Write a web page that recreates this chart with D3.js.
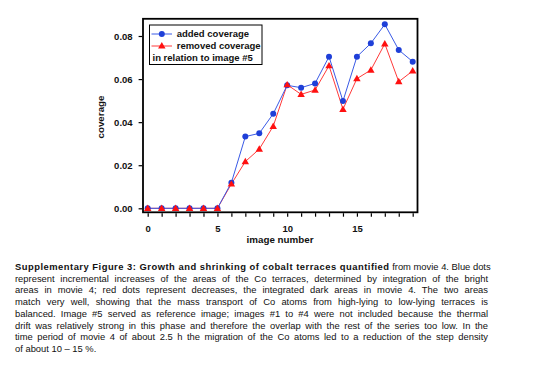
<!DOCTYPE html>
<html><head><meta charset="utf-8">
<script src="https://cdn.jsdelivr.net/npm/d3@7"></script>
<style>
html,body{margin:0;padding:0;background:#fff;width:554px;height:380px;overflow:hidden;}
#cap{position:absolute;left:15px;top:261px;width:473px;font-family:"Liberation Sans",Arial,sans-serif;font-size:9.4px;line-height:11.7px;color:#111;}
#cap div{text-align:justify;text-align-last:justify;white-space:nowrap;}
#cap div.last{text-align-last:left;}
#cap b{letter-spacing:0.5px;}
svg{position:absolute;left:0;top:0;}
</style></head>
<body>
<div id="cap"></div>
<script>
const imageNumbers = d3.range(0, 20);
const addedCoverage = [0,0,0,0,0,0,0.0119,0.0333,0.0348,0.0439,0.0571,0.0560,0.0580,0.0704,0.0498,0.0704,0.0766,0.0854,0.0735,0.0681];
const removedCoverage = [0,0,0,0,0,0,0.0113,0.0217,0.0275,0.0381,0.0574,0.0529,0.0549,0.0662,0.0460,0.0602,0.0642,0.0764,0.0588,0.0638];
const yTicks = [0, 0.02, 0.04, 0.06, 0.08];
const xMajorTicks = [0, 5, 10, 15];
const legendLabels = ["added coverage", "removed coverage", "in relation to image #5"];
const axisTitles = {x: "image number", y: "coverage"};
const captionBold = "Supplementary Figure 3: Growth and shrinking of cobalt terraces quantified";
const captionLines = [
  " from movie 4. Blue dots",
  "represent incremental increases of the areas of the Co terraces, determined by integration of the bright",
  "areas in movie 4; red dots represent decreases, the integrated dark areas in movie 4. The two areas",
  "match very well, showing that the mass transport of Co atoms from high-lying to low-lying terraces is",
  "balanced. Image #5 served as reference image; images #1 to #4 were not included because the thermal",
  "drift was relatively strong in this phase and therefore the overlap with the rest of the series too low. In the",
  "time period of movie 4 of about 2.5 h the migration of the Co atoms led to a reduction of the step density",
  "of about 10 \u2013 15 %."
];

const blue = "#1e3fd8", blueLine = "#3a5ae6";
const red = "#ff1010", redLine = "#ff3a3a";
const font = '"Liberation Sans",Arial,sans-serif';

const svg = d3.select("body").append("svg").attr("width",554).attr("height",250);

const x = d3.scaleLinear().domain([0,19]).range([147.7,412.7]);
const y = d3.scaleLinear().domain([0,0.08]).range([208.3,36]);

const frame = {l:143, r:417.5, t:18.8, b:212.3};

svg.append("rect").attr("x",frame.l).attr("y",frame.t)
  .attr("width",frame.r-frame.l).attr("height",frame.b-frame.t)
  .attr("fill","none").attr("stroke","#000").attr("stroke-width",1.8);

const yAxis = d3.axisLeft(y).tickValues(yTicks).tickFormat(d3.format(".2f")).tickSizeInner(3.5).tickSizeOuter(0).tickPadding(6);
const gy = svg.append("g").attr("transform",`translate(${frame.l-0.9},0)`).call(yAxis);
gy.select(".domain").remove();
gy.selectAll("line").attr("stroke","#000").attr("stroke-width",1.2);
gy.selectAll("text").attr("font-family",font).attr("font-size","9.5px").attr("font-weight","bold").attr("fill","#111");

const xAxis = d3.axisBottom(x).tickValues(imageNumbers).tickFormat(d=>xMajorTicks.includes(d)?d:"").tickSizeInner(3.5).tickSizeOuter(0).tickPadding(9);
const gx = svg.append("g").attr("transform",`translate(0,${frame.b+0.9})`).call(xAxis);
gx.select(".domain").remove();
gx.selectAll("line").attr("stroke","#000").attr("stroke-width",1.2);
gx.selectAll("text").attr("font-family",font).attr("font-size","9.5px").attr("font-weight","bold").attr("fill","#111");

svg.append("text").attr("x",280).attr("y",243).attr("text-anchor","middle")
  .attr("font-family",font).attr("font-size","9.8px").attr("font-weight","bold").attr("fill","#111").text(axisTitles.x);
svg.append("text").attr("transform","translate(104,117) rotate(-90)").attr("text-anchor","middle")
  .attr("font-family",font).attr("font-size","9.8px").attr("font-weight","bold").attr("fill","#111").text(axisTitles.y);

const line = d3.line().x((d,i)=>x(imageNumbers[i])).y(d=>y(d));
const tri = d3.symbol().type(d3.symbolTriangle).size(24);

svg.append("path").datum(removedCoverage).attr("d",line).attr("fill","none").attr("stroke",redLine).attr("stroke-width",1);
svg.append("path").datum(addedCoverage).attr("d",line).attr("fill","none").attr("stroke",blueLine).attr("stroke-width",1);
svg.selectAll(".bdot").data(addedCoverage).enter().append("circle")
  .attr("cx",(d,i)=>x(imageNumbers[i])).attr("cy",d=>y(d)).attr("r",3).attr("fill",blue);
svg.selectAll(".rtri").data(removedCoverage).enter().append("path")
  .attr("d",tri).attr("transform",(d,i)=>`translate(${x(imageNumbers[i])},${y(d)+0.5})`).attr("fill",red);

const lg = svg.append("g");
lg.append("rect").attr("x",149.5).attr("y",25).attr("width",112.5).attr("height",39.5)
  .attr("fill","#fff").attr("stroke","#000").attr("stroke-width",1);
const ly = [37.3, 49.3, 61.3];
lg.append("line").attr("x1",151.5).attr("x2",172).attr("y1",ly[0]-3.3).attr("y2",ly[0]-3.3).attr("stroke",blueLine);
lg.append("circle").attr("cx",161.8).attr("cy",ly[0]-3.3).attr("r",3).attr("fill",blue);
lg.append("line").attr("x1",151.5).attr("x2",172).attr("y1",ly[1]-3.3).attr("y2",ly[1]-3.3).attr("stroke",redLine);
lg.append("path").attr("d",tri).attr("transform",`translate(161.8,${ly[1]-3})`).attr("fill",red);
legendLabels.forEach((t,i)=>{
  lg.append("text").attr("x",i<2?176.7:152.5).attr("y",ly[i]).attr("font-family",font)
    .attr("font-size","9.5px").attr("font-weight","bold").attr("fill","#111").text(t);
});

const cap = d3.select("#cap");
captionLines.forEach((t,i)=>{
  const dv = cap.append("div");
  if(i===captionLines.length-1) dv.attr("class","last");
  if(i===0){ dv.append("b").text(captionBold); dv.append("span").text(t); }
  else dv.text(t);
});
</script>
</body></html>
